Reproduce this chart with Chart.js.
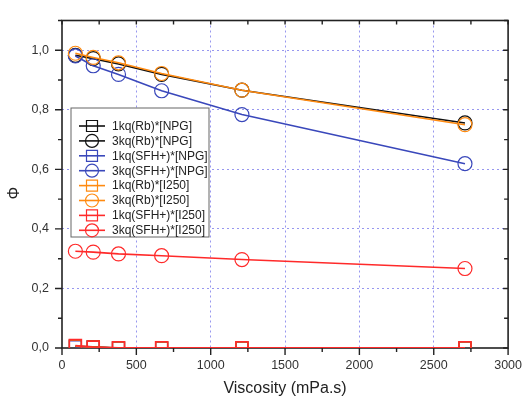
<!DOCTYPE html>
<html>
<head>
<meta charset="utf-8">
<script src="https://cdn.jsdelivr.net/npm/chart.js"></script>
<style>
html, body { margin: 0; padding: 0; background: #fff; }
#wrap { width: 532px; height: 398px; }
</style>
</head>
<body>
<div id="wrap"><canvas id="myChart"></canvas></div>
<script>
// viscosity values (mPa.s)
const viscosity = [90, 210, 380, 670, 1210, 2710];

// quantum yields
const rbNpg1 = [0.006, 0.004, 0.0, 0.0, 0.0, 0.0];
const rbNpg3 = [0.983, 0.972, 0.954, 0.919, 0.866, 0.756];
const sfhNpg1 = [0.004, 0.002, 0.0, 0.0, 0.0, 0.0];
const sfhNpg3 = [0.981, 0.948, 0.919, 0.864, 0.784, 0.619];
const rbI250_1 = [0.006, 0.003, 0.0, 0.0, 0.0, 0.0];
const rbI250_3 = [0.99, 0.976, 0.958, 0.922, 0.866, 0.75];
const sfhI250_1 = [0.008, 0.003, 0.001, 0.001, 0.001, 0.001];
const sfhI250_3 = [0.325, 0.322, 0.316, 0.31, 0.297, 0.267];

const labels = ['1kq(Rb)*[NPG]', '3kq(Rb)*[NPG]', '1kq(SFH+)*[NPG]', '3kq(SFH+)*[NPG]',
                '1kq(Rb)*[I250]', '3kq(Rb)*[I250]', '1kq(SFH+)*[I250]', '3kq(SFH+)*[I250]'];

const BLACK = '#111111', BLUE = '#3a48bb', ORANGE = '#ff8a10', RED = '#ff2a2a';
const gridColor = 'rgba(95,95,230,0.65)';
const FONT = '"Liberation Sans", Arial, sans-serif';

function ds(label, vals, color, style, order, bw) {
  return {
    label: label,
    data: viscosity.map((x, i) => ({ x: x, y: vals[i] })),
    borderColor: color,
    backgroundColor: 'rgba(0,0,0,0)',
    pointBorderColor: color,
    pointBackgroundColor: 'rgba(0,0,0,0)',
    pointStyle: style,
    pointRadius: style === 'circle' ? 7 : 8.5,
    pointBorderWidth: bw || 1.2,
    borderWidth: 1.6,
    tension: 0,
    clip: 0,
    order: order
  };
}

// frame and minor/major tick marks, under the data
const frame = {
  id: 'frame',
  beforeDatasetsDraw(chart) {
    const ctx = chart.ctx, a = chart.chartArea;
    const xs = chart.scales.x, ys = chart.scales.y;
    ctx.save();
    ctx.strokeStyle = '#222';
    ctx.lineWidth = 1.6;
    ctx.strokeRect(a.left, a.top, a.right - a.left, a.bottom - a.top);
    ctx.lineWidth = 1.4;
    ctx.beginPath();
    for (let v = 0; v <= 3000; v += 250) {
      const px = xs.getPixelForValue(v);
      const major = v % 500 === 0;
      ctx.moveTo(px, a.bottom); ctx.lineTo(px, a.bottom + (major ? 7 : 4));
      ctx.moveTo(px, a.top); ctx.lineTo(px, a.top + 4);
    }
    for (let k = 0; k <= 11; k++) {
      const py = ys.getPixelForValue(k / 10);
      const major = k % 2 === 0;
      ctx.moveTo(a.left, py); ctx.lineTo(a.left - (major ? 7 : 4), py);
      ctx.moveTo(a.right, py); ctx.lineTo(a.right - (major ? 5 : 4), py);
    }
    ctx.stroke();
    ctx.restore();
  }
};

// y title and boxed legend
const decor = {
  id: 'decor',
  afterDraw(chart) {
    const ctx = chart.ctx;
    ctx.save();
    ctx.fillStyle = '#222';
    ctx.font = '16px ' + FONT;
    ctx.textAlign = 'center';
    ctx.textBaseline = 'middle';
    ctx.translate(15, 193);
    ctx.rotate(-Math.PI / 2);
    ctx.fillText('\u03A6', 0, 0);
    ctx.restore();

    ctx.save();
    ctx.fillStyle = '#fff';
    ctx.fillRect(71, 108, 138, 129);
    ctx.strokeStyle = '#666';
    ctx.lineWidth = 1;
    ctx.strokeRect(71, 108, 138, 129);
    ctx.font = '12px ' + FONT;
    ctx.textAlign = 'left';
    ctx.textBaseline = 'middle';
    chart.data.datasets.forEach((d, i) => {
      const y = 126 + i * 14.9;
      ctx.strokeStyle = d.borderColor;
      ctx.lineWidth = 1.6;
      ctx.beginPath();
      ctx.moveTo(79, y); ctx.lineTo(105, y);
      ctx.stroke();
      ctx.lineWidth = 1.2;
      ctx.beginPath();
      if (d.pointStyle === 'circle') ctx.arc(92, y, 6.5, 0, Math.PI * 2);
      else ctx.rect(86.5, y - 5.5, 11, 11);
      ctx.stroke();
      ctx.fillStyle = '#222';
      ctx.fillText(d.label, 112, y + 0.5);
    });
    ctx.restore();
  }
};

new Chart('myChart', {
  type: 'line',
  data: {
    datasets: [
      ds(labels[0], rbNpg1, BLACK, 'rect', 5),
      ds(labels[1], rbNpg3, BLACK, 'circle', 4),
      ds(labels[2], sfhNpg1, BLUE, 'rect', 6),
      ds(labels[3], sfhNpg3, BLUE, 'circle', 3),
      ds(labels[4], rbI250_1, ORANGE, 'rect', 2),
      ds(labels[5], rbI250_3, ORANGE, 'circle', 1),
      ds(labels[6], sfhI250_1, RED, 'rect', 0, 1.6),
      ds(labels[7], sfhI250_3, RED, 'circle', 0)
    ]
  },
  options: {
    responsive: true,
    maintainAspectRatio: false,
    animation: false,
    layout: { padding: { top: 14, right: 15, left: 0, bottom: 0 } },
    plugins: {
      legend: { display: false },
      tooltip: { enabled: false }
    },
    scales: {
      x: {
        type: 'linear',
        min: 0,
        max: 3000,
        afterFit: s => { s.height = 50; },
        ticks: {
          stepSize: 500,
          padding: 10,
          color: '#333',
          font: { size: 12.5, family: FONT },
          callback: v => String(v)
        },
        grid: {
          drawTicks: false,
          lineWidth: 1,
          color: c => (c.tick && (c.tick.value === 0 || c.tick.value === 3000)) ? 'rgba(0,0,0,0)' : gridColor
        },
        border: { display: false, dash: [2, 3] },
        title: {
          display: true,
          text: 'Viscosity (mPa.s)',
          color: '#222',
          padding: 0,
          font: { size: 16, family: FONT }
        }
      },
      y: {
        type: 'linear',
        min: 0,
        max: 1.1,
        afterFit: s => { s.width = 62; },
        ticks: {
          stepSize: 0.2,
          includeBounds: false,
          padding: 13,
          color: '#333',
          font: { size: 12.5, family: FONT },
          callback: v => v.toFixed(1).replace('.', ',')
        },
        grid: {
          drawTicks: false,
          lineWidth: 1,
          color: c => (c.tick && c.tick.value === 0) ? 'rgba(0,0,0,0)' : gridColor
        },
        border: { display: false, dash: [2, 3] }
      }
    }
  },
  plugins: [frame, decor]
});
</script>
</body>
</html>
